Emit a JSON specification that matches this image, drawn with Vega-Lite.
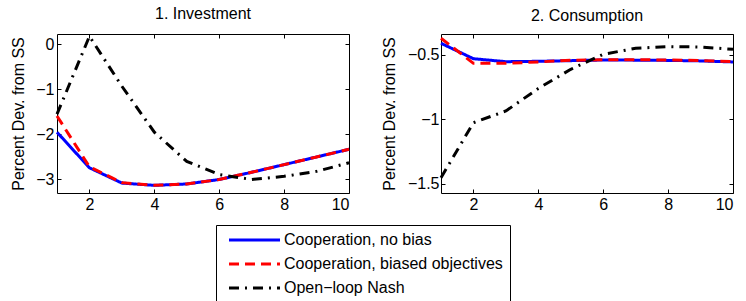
{
  "$schema": "https://vega.github.io/schema/vega-lite/v6.json",
  "padding": {"left": 10, "top": 5, "right": 5, "bottom": 0},
  "background": "white",
  "config": {
    "font": "Liberation Sans",
    "view": {"stroke": "black", "strokeWidth": 1},
    "axis": {"grid": false, "domain": false, "tickColor": "black", "tickSize": -4, "labelFontSize": 16, "labelColor": "black", "titleFontSize": 16, "titleFontWeight": "normal", "titleColor": "black", "labelFont": "Liberation Sans", "titleFont": "Liberation Sans"},
    "title": {"fontSize": 16, "fontWeight": "normal", "color": "black", "font": "Liberation Sans", "offset": 8},
    "legend": {"orient": "none", "legendX": 159, "legendY": 191, "strokeColor": "black", "fillColor": "white", "padding": 7, "labelFontSize": 16, "labelColor": "black", "labelFont": "Liberation Sans", "labelLimit": 500, "symbolStrokeWidth": 3, "symbolSize": 100, "symbolType": "M-0.4,0H9.8", "rowPadding": 8, "labelOffset": 45}
  },
  "datasets": {
    "d": [
      {"p": "inv", "s": "Cooperation, no bias", "t": 1, "v": -1.95},
      {"p": "inv", "s": "Cooperation, no bias", "t": 2, "v": -2.74},
      {"p": "inv", "s": "Cooperation, no bias", "t": 3, "v": -3.08},
      {"p": "inv", "s": "Cooperation, no bias", "t": 4, "v": -3.13},
      {"p": "inv", "s": "Cooperation, no bias", "t": 5, "v": -3.10},
      {"p": "inv", "s": "Cooperation, no bias", "t": 6, "v": -3.0},
      {"p": "inv", "s": "Cooperation, no bias", "t": 7, "v": -2.84},
      {"p": "inv", "s": "Cooperation, no bias", "t": 8, "v": -2.67},
      {"p": "inv", "s": "Cooperation, no bias", "t": 9, "v": -2.50},
      {"p": "inv", "s": "Cooperation, no bias", "t": 10, "v": -2.33},
      {"p": "inv", "s": "Cooperation, biased objectives", "t": 1, "v": -1.59},
      {"p": "inv", "s": "Cooperation, biased objectives", "t": 2, "v": -2.72},
      {"p": "inv", "s": "Cooperation, biased objectives", "t": 3, "v": -3.07},
      {"p": "inv", "s": "Cooperation, biased objectives", "t": 4, "v": -3.13},
      {"p": "inv", "s": "Cooperation, biased objectives", "t": 5, "v": -3.10},
      {"p": "inv", "s": "Cooperation, biased objectives", "t": 6, "v": -3.0},
      {"p": "inv", "s": "Cooperation, biased objectives", "t": 7, "v": -2.84},
      {"p": "inv", "s": "Cooperation, biased objectives", "t": 8, "v": -2.67},
      {"p": "inv", "s": "Cooperation, biased objectives", "t": 9, "v": -2.50},
      {"p": "inv", "s": "Cooperation, biased objectives", "t": 10, "v": -2.33},
      {"p": "inv", "s": "Open−loop Nash", "t": 1, "v": -1.55},
      {"p": "inv", "s": "Open−loop Nash", "t": 2, "v": 0.18},
      {"p": "inv", "s": "Open−loop Nash", "t": 3, "v": -0.93},
      {"p": "inv", "s": "Open−loop Nash", "t": 4, "v": -1.95},
      {"p": "inv", "s": "Open−loop Nash", "t": 5, "v": -2.6},
      {"p": "inv", "s": "Open−loop Nash", "t": 6, "v": -2.89},
      {"p": "inv", "s": "Open−loop Nash", "t": 7, "v": -3.0},
      {"p": "inv", "s": "Open−loop Nash", "t": 8, "v": -2.93},
      {"p": "inv", "s": "Open−loop Nash", "t": 9, "v": -2.82},
      {"p": "inv", "s": "Open−loop Nash", "t": 10, "v": -2.63},
      {"p": "con", "s": "Cooperation, no bias", "t": 1, "v": -0.409},
      {"p": "con", "s": "Cooperation, no bias", "t": 2, "v": -0.529},
      {"p": "con", "s": "Cooperation, no bias", "t": 3, "v": -0.552},
      {"p": "con", "s": "Cooperation, no bias", "t": 4, "v": -0.549},
      {"p": "con", "s": "Cooperation, no bias", "t": 5, "v": -0.544},
      {"p": "con", "s": "Cooperation, no bias", "t": 6, "v": -0.539},
      {"p": "con", "s": "Cooperation, no bias", "t": 7, "v": -0.540},
      {"p": "con", "s": "Cooperation, no bias", "t": 8, "v": -0.542},
      {"p": "con", "s": "Cooperation, no bias", "t": 9, "v": -0.546},
      {"p": "con", "s": "Cooperation, no bias", "t": 10, "v": -0.554},
      {"p": "con", "s": "Cooperation, biased objectives", "t": 1, "v": -0.37},
      {"p": "con", "s": "Cooperation, biased objectives", "t": 2, "v": -0.565},
      {"p": "con", "s": "Cooperation, biased objectives", "t": 3, "v": -0.565},
      {"p": "con", "s": "Cooperation, biased objectives", "t": 4, "v": -0.554},
      {"p": "con", "s": "Cooperation, biased objectives", "t": 5, "v": -0.541},
      {"p": "con", "s": "Cooperation, biased objectives", "t": 6, "v": -0.537},
      {"p": "con", "s": "Cooperation, biased objectives", "t": 7, "v": -0.537},
      {"p": "con", "s": "Cooperation, biased objectives", "t": 8, "v": -0.539},
      {"p": "con", "s": "Cooperation, biased objectives", "t": 9, "v": -0.543},
      {"p": "con", "s": "Cooperation, biased objectives", "t": 10, "v": -0.552},
      {"p": "con", "s": "Open−loop Nash", "t": 1, "v": -1.453},
      {"p": "con", "s": "Open−loop Nash", "t": 2, "v": -1.026},
      {"p": "con", "s": "Open−loop Nash", "t": 3, "v": -0.935},
      {"p": "con", "s": "Open−loop Nash", "t": 4, "v": -0.76},
      {"p": "con", "s": "Open−loop Nash", "t": 5, "v": -0.611},
      {"p": "con", "s": "Open−loop Nash", "t": 6, "v": -0.495},
      {"p": "con", "s": "Open−loop Nash", "t": 7, "v": -0.448},
      {"p": "con", "s": "Open−loop Nash", "t": 8, "v": -0.435},
      {"p": "con", "s": "Open−loop Nash", "t": 9, "v": -0.438},
      {"p": "con", "s": "Open−loop Nash", "t": 10, "v": -0.456}
    ]
  },
  "spacing": 24,
  "resolve": {"scale": {"x": "independent", "y": "independent", "color": "shared", "strokeDash": "shared"}},
  "hconcat": [
    {
      "width": 292, "height": 159,
      "title": "1. Investment",
      "data": {"name": "d"},
      "transform": [{"filter": "datum.p === 'inv'"}],
      "resolve": {"axis": {"x": "independent", "y": "independent"}},
      "layer": [
        {
          "mark": {"type": "line", "strokeWidth": 3},
          "encoding": {
            "x": {"field": "t", "type": "quantitative", "scale": {"domain": [1, 10], "nice": false, "zero": false}, "axis": {"values": [2, 4, 6, 8, 10], "title": null, "labelPadding": 7}},
            "y": {"field": "v", "type": "quantitative", "scale": {"domain": [-3.3, 0.23], "nice": false, "zero": false}, "axis": {"values": [-3, -2, -1, 0], "format": "~g", "title": "Percent Dev. from SS", "labelPadding": 7, "titlePadding": 9}},
            "color": {"field": "s", "type": "nominal", "sort": ["Cooperation, no bias", "Cooperation, biased objectives", "Open−loop Nash"], "scale": {"domain": ["Cooperation, no bias", "Cooperation, biased objectives", "Open−loop Nash"], "range": ["#0000ff", "#ff0000", "#000000"]}, "legend": {"title": null}},
            "strokeDash": {"field": "s", "type": "nominal", "sort": ["Cooperation, no bias", "Cooperation, biased objectives", "Open−loop Nash"], "scale": {"domain": ["Cooperation, no bias", "Cooperation, biased objectives", "Open−loop Nash"], "range": [[1, 0], [10, 6], [10, 6, 2, 6]]}, "legend": {"title": null}}
          }
        },
        {
          "mark": {"type": "line", "opacity": 0},
          "encoding": {
            "x": {"field": "t", "type": "quantitative", "axis": {"orient": "top", "values": [2, 4, 6, 8, 10], "labels": false, "title": null}},
            "y": {"field": "v", "type": "quantitative", "axis": {"orient": "right", "values": [-3, -2, -1, 0], "labels": false, "title": null}},
            "detail": {"field": "s"}
          }
        }
      ]
    },
    {
      "width": 292, "height": 159,
      "title": "2. Consumption",
      "data": {"name": "d"},
      "transform": [{"filter": "datum.p === 'con'"}],
      "resolve": {"axis": {"x": "independent", "y": "independent"}},
      "layer": [
        {
          "mark": {"type": "line", "strokeWidth": 3},
          "encoding": {
            "x": {"field": "t", "type": "quantitative", "scale": {"domain": [1, 10], "nice": false, "zero": false}, "axis": {"values": [2, 4, 6, 8, 10], "title": null, "labelPadding": 7}},
            "y": {"field": "v", "type": "quantitative", "scale": {"domain": [-1.572, -0.337], "nice": false, "zero": false}, "axis": {"values": [-1.5, -1, -0.5], "format": "~g", "title": "Percent Dev. from SS", "labelPadding": 6, "titlePadding": 10}},
            "color": {"field": "s", "type": "nominal", "sort": ["Cooperation, no bias", "Cooperation, biased objectives", "Open−loop Nash"], "scale": {"domain": ["Cooperation, no bias", "Cooperation, biased objectives", "Open−loop Nash"], "range": ["#0000ff", "#ff0000", "#000000"]}, "legend": {"title": null}},
            "strokeDash": {"field": "s", "type": "nominal", "sort": ["Cooperation, no bias", "Cooperation, biased objectives", "Open−loop Nash"], "scale": {"domain": ["Cooperation, no bias", "Cooperation, biased objectives", "Open−loop Nash"], "range": [[1, 0], [10, 6], [10, 6, 2, 6]]}, "legend": {"title": null}}
          }
        },
        {
          "mark": {"type": "line", "opacity": 0},
          "encoding": {
            "x": {"field": "t", "type": "quantitative", "axis": {"orient": "top", "values": [2, 4, 6, 8, 10], "labels": false, "title": null}},
            "y": {"field": "v", "type": "quantitative", "axis": {"orient": "right", "values": [-1.5, -1, -0.5], "labels": false, "title": null}},
            "detail": {"field": "s"}
          }
        }
      ]
    }
  ]
}
